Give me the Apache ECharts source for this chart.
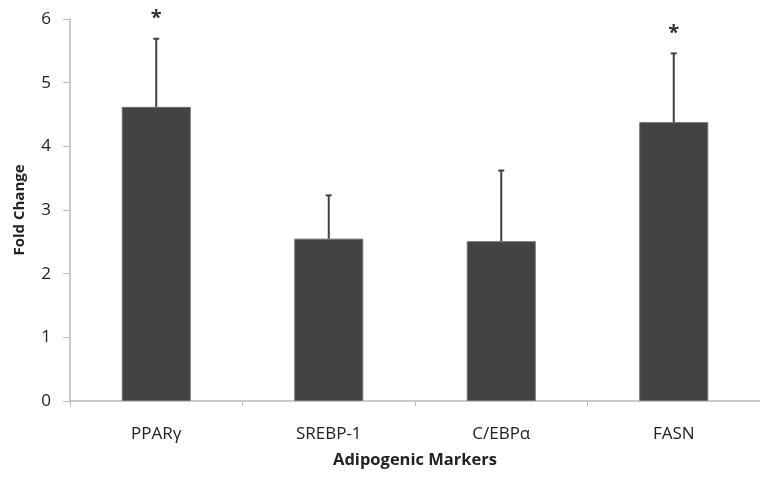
<!DOCTYPE html>
<html>
<head>
<meta charset="utf-8">
<script src="https://cdn.jsdelivr.net/npm/echarts@6/dist/echarts.min.js"></script>
<style>
html,body{margin:0;padding:0;background:#fff;}
#chart{width:760px;height:483px;}
</style>
</head>
<body>
<div id="chart"></div>
<script>
var categories = ['PPARγ', 'SREBP-1', 'C/EBPα', 'FASN'];
var foldChange = [4.62, 2.55, 2.51, 4.38];
var errorUpper = [5.69, 3.23, 3.62, 5.46];
var significance = ['*', '', '', '*'];
var yTicks = [0, 1, 2, 3, 4, 5, 6];

var chart = echarts.init(document.getElementById('chart'));
var font = '"Open Sans", "Noto Sans", sans-serif';

var errData = categories.map(function (c, i) {
  return [i, foldChange[i], errorUpper[i], significance[i]];
});

chart.setOption({
  animation: false,
  backgroundColor: '#fff',
  grid: { left: 70, right: -8, top: 19, bottom: 82 },
  xAxis: {
    type: 'category',
    data: categories,
    name: 'Adipogenic Markers',
    nameLocation: 'middle',
    nameGap: 51,
    nameTextStyle: { fontFamily: font, fontSize: 16.5, fontWeight: 'bold', color: '#222' },
    axisLine: { lineStyle: { color: '#bbbbbb', width: 1.5 } },
    axisTick: { show: true, length: 5, lineStyle: { color: '#bbbbbb' } },
    axisLabel: { fontFamily: font, fontSize: 17, color: '#222', margin: 25 }
  },
  yAxis: {
    type: 'value',
    min: yTicks[0],
    max: yTicks[yTicks.length - 1],
    interval: 1,
    name: 'Fold Change',
    nameLocation: 'middle',
    nameRotate: 90,
    nameGap: 43,
    nameTextStyle: { fontFamily: font, fontSize: 15, fontWeight: 'bold', color: '#222' },
    axisLine: { show: true, lineStyle: { color: '#bbbbbb', width: 1.5 } },
    axisTick: { show: true, length: 7, lineStyle: { color: '#bbbbbb' } },
    splitLine: { show: false },
    axisLabel: { fontFamily: font, fontSize: 17, color: '#222', margin: 19 }
  },
  series: [
    {
      type: 'bar',
      data: foldChange,
      barWidth: '40%',
      itemStyle: { color: '#434343', borderColor: '#6e6e6e', borderWidth: 1 },
      z: 2
    },
    {
      type: 'custom',
      data: errData,
      z: 3,
      renderItem: function (params, api) {
        var x = api.value(0);
        var top = api.coord([x, api.value(2)]);
        var base = api.coord([x, api.value(1)]);
        var cap = 3;
        var children = [
          { type: 'line', shape: { x1: top[0], y1: base[1], x2: top[0], y2: top[1] },
            style: { stroke: '#404040', lineWidth: 2 } },
          { type: 'line', shape: { x1: top[0] - cap, y1: top[1], x2: top[0] + cap, y2: top[1] },
            style: { stroke: '#404040', lineWidth: 2 } }
        ];
        if (api.value(3)) {
          children.push({
            type: 'text',
            style: { text: api.value(3), x: top[0], y: top[1] - 20, align: 'center', verticalAlign: 'middle',
                     font: 'bold 20px ' + font, fill: '#333' }
          });
        }
        return { type: 'group', children: children };
      }
    }
  ]
});
</script>
</body>
</html>
